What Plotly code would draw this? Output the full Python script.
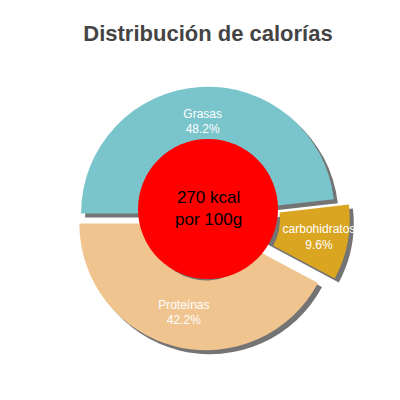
import plotly.graph_objects as go

labels = ["Grasas", "Proteínas", "carbohidratos"]
values = [48.2, 42.2, 9.6]
colors = ["#7ac4cc", "#efc48f", "#daa520"]
pulls = [0.02, 0.06, 0.12]
center_text = "270 kcal<br>por 100g"

dom = dict(x=[0.145, 0.855], y=[0.125, 0.835])
sdom = dict(x=[0.155, 0.865], y=[0.115, 0.825])

fig = go.Figure()
fig.add_trace(go.Pie(values=values, domain=sdom, sort=False, direction="counterclockwise",
                     rotation=-90, pull=pulls, marker=dict(colors=["#666"] * 3),
                     textinfo="none", hoverinfo="skip", showlegend=False, opacity=0.9))
fig.add_trace(go.Pie(values=values, labels=labels, domain=dom, sort=False, hole=0.45,
                     direction="counterclockwise", rotation=-90, pull=pulls,
                     marker=dict(colors=colors, line=dict(color="white", width=0)),
                     texttemplate="%{label}<br>%{value}%", textposition="inside",
                     insidetextorientation="horizontal",
                     textfont=dict(color="white", size=12, family="Liberation Sans"),
                     showlegend=False))
fig.add_shape(type="circle", xref="paper", yref="paper", x0=0.325, x1=0.675, y0=0.3225, y1=0.6725,
              fillcolor="red", line=dict(width=0))
fig.add_annotation(x=0.5, y=0.5, xref="paper", yref="paper", text=center_text, showarrow=False,
                   font=dict(size=17, color="black", family="Liberation Sans"))
fig.update_layout(width=400, height=400, margin=dict(l=0, r=0, t=0, b=0),
                  paper_bgcolor="white", uniformtext=dict(minsize=12, mode="show"),
                  title=dict(text="<b>Distribución de calorías</b>", x=0.5, y=0.955, xanchor="center",
                             font=dict(size=22, color="#444", family="Liberation Sans")))
fig.write_html("out.html")
